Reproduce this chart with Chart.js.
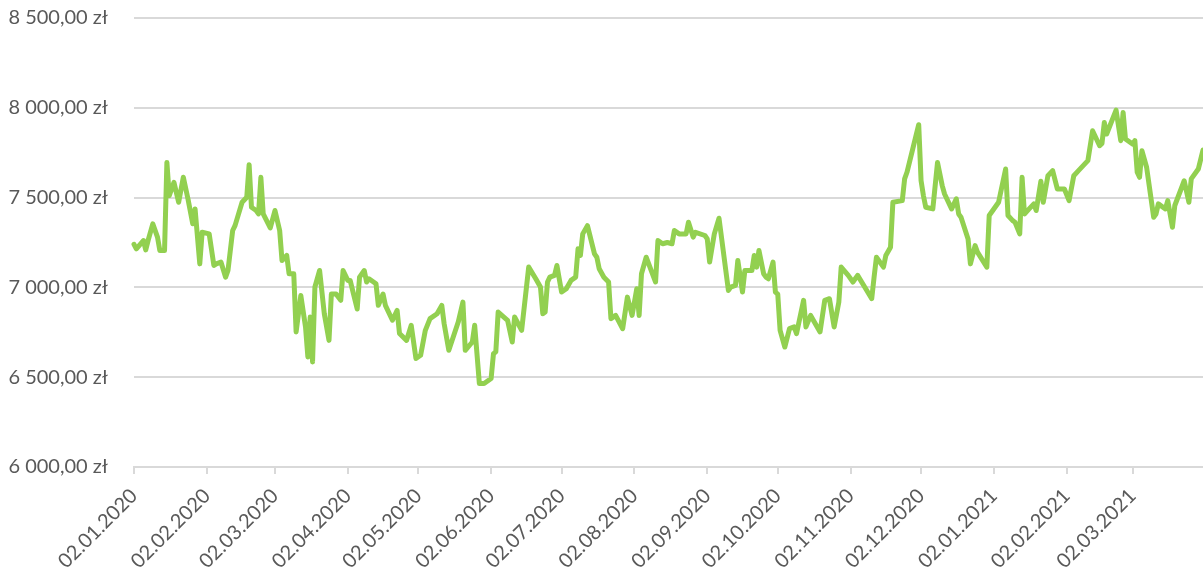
<!DOCTYPE html>
<html>
<head>
<meta charset="utf-8">
<script src="https://cdn.jsdelivr.net/npm/chart.js@4/dist/chart.umd.min.js"></script>
<style>
  html, body { margin: 0; padding: 0; background: #fff; }
  #wrap { width: 1203px; height: 570px; position: relative; }
</style>
</head>
<body>
<div id="wrap"><canvas id="priceChart"></canvas></div>
<script>
// days counted from 02.01.2020
const dayOffsets = [
  0, 1, 4, 5, 6, 8, 10, 11, 13, 14, 15, 17, 19, 21, 23, 25, 26, 28, 29, 32,
  34, 35, 37, 39, 40, 42, 43, 46, 48, 49, 50, 52, 53, 54, 55, 58, 60, 62, 63, 65,
  66, 68, 69, 71, 73, 74, 75, 76, 77, 79, 81, 83, 84, 86, 88, 89, 91, 92, 95, 96,
  98, 99, 100, 103, 104, 106, 107, 110, 112, 113, 116, 118, 120, 122, 124, 126, 129, 131, 132, 134,
  138, 140, 141, 144, 145, 147, 149, 152, 153, 154, 155, 159, 161, 162, 165, 168, 171, 173, 174, 175,
  176, 177, 179, 180, 182, 184, 186, 188, 189, 190, 191, 193, 196, 197, 198, 200, 202, 203, 205, 208,
  210, 212, 214, 215, 216, 218, 222, 223, 225, 227, 229, 230, 232, 235, 236, 238, 239, 243, 244, 245,
  247, 249, 253, 254, 256, 257, 259, 260, 263, 264, 265, 266, 268, 269, 270, 272, 273, 274, 275, 277,
  279, 281, 282, 285, 286, 288, 292, 294, 296, 298, 300, 301, 304, 306, 308, 311, 314, 315, 316, 319,
  320, 322, 323, 327, 328, 329, 334, 335, 336, 337, 340, 342, 344, 345, 348, 350, 351, 352, 355, 356,
  358, 359, 363, 364, 368, 371, 372, 374, 375, 377, 378, 379, 381, 383, 384, 386, 387, 389, 391, 393,
  396, 398, 400, 402, 404, 406, 408, 411, 412, 413, 414, 418, 420, 421, 422, 425, 426, 427, 428, 429,
  431, 434, 435, 436, 439, 440, 442, 443, 446, 447, 449, 450, 453, 455
];

const prices = [
  7240, 7215, 7261, 7209, 7261, 7354, 7280, 7205, 7205, 7696, 7511, 7585, 7474, 7613, 7491, 7354, 7437, 7131, 7307, 7298,
  7122, 7131, 7141, 7057, 7094, 7317, 7344, 7474, 7502, 7683, 7446, 7428, 7409, 7613, 7409, 7331, 7428, 7317, 7150, 7178,
  7076, 7076, 6752, 6955, 6780, 6613, 6835, 6585, 7002, 7094, 6853, 6705, 6963, 6963, 6928, 7094, 7039, 7039, 6880, 7057,
  7094, 7030, 7048, 7020, 6900, 6963, 6900, 6817, 6872, 6743, 6705, 6789, 6604, 6622, 6761, 6826, 6853, 6900, 6798, 6650,
  6807, 6918, 6650, 6696, 6789, 6465, 6465, 6493, 6631, 6641, 6863, 6817, 6696, 6835, 6761, 7113, 7048, 7002, 6853, 6863,
  7030, 7057, 7067, 7122, 6974, 6993, 7039, 7057, 7215, 7178, 7298, 7344, 7187, 7168, 7104, 7057, 7030, 6826, 6844, 6770,
  6946, 6844, 6993, 6844, 7076, 7168, 7030, 7261, 7243, 7250, 7243, 7317, 7298, 7298, 7363, 7280, 7307, 7289, 7270, 7141,
  7298, 7385, 6983, 7002, 7011, 7150, 6974, 7094, 7094, 7178, 7113, 7206, 7076, 7057, 7048, 7141, 6974, 6963, 6761, 6668,
  6770, 6780, 6743, 6928, 6780, 6844, 6752, 6928, 6937, 6780, 6918, 7113, 7067, 7030, 7067, 7002, 6937, 7057, 7168, 7113,
  7178, 7224, 7474, 7483, 7604, 7641, 7906, 7594, 7511, 7446, 7437, 7696, 7567, 7520, 7437, 7493, 7409, 7391, 7270, 7131,
  7233, 7196, 7113, 7400, 7474, 7659, 7400, 7372, 7363, 7298, 7613, 7409, 7437, 7465, 7428, 7591, 7474, 7622, 7650, 7548,
  7548, 7483, 7622, 7650, 7678, 7706, 7872, 7789, 7802, 7918, 7854, 7987, 7817, 7974, 7826, 7798, 7817, 7641, 7613, 7761,
  7669, 7391, 7409, 7465, 7437, 7483, 7335, 7456, 7559, 7594, 7474, 7604, 7659, 7765
];

const tickDays = [0, 31, 60, 91, 121, 152, 182, 213, 244, 274, 305, 335, 366, 397, 425];
const tickLabels = [
  '02.01.2020', '02.02.2020', '02.03.2020', '02.04.2020', '02.05.2020',
  '02.06.2020', '02.07.2020', '02.08.2020', '02.09.2020', '02.10.2020',
  '02.11.2020', '02.12.2020', '02.01.2021', '02.02.2021', '02.03.2021'
];

const points = dayOffsets.map((d, i) => ({ x: d, y: prices[i] }));

function formatPLN(v) {
  const whole = Math.floor(v);
  const s = String(whole).replace(/\B(?=(\d{3})+(?!\d))/g, ' ');
  return s + ',00 zł';
}

const gray = '#d9d9d9';
const textColor = '#595959';
const font = { family: 'Lato', size: 20 };

new Chart(document.getElementById('priceChart'), {
  type: 'line',
  data: {
    datasets: [{
      data: points,
      borderColor: '#92d050',
      borderWidth: 5,
      borderJoinStyle: 'round',
      borderCapStyle: 'round',
      pointRadius: 0,
      tension: 0,
      clip: false,
    }],
  },
  options: {
    responsive: true,
    maintainAspectRatio: false,
    animation: false,
    layout: { padding: { top: 18, right: 0, left: 0, bottom: 0 } },
    plugins: {
      legend: { display: false },
      tooltip: { enabled: false },
    },
    scales: {
      x: {
        type: 'linear',
        min: 0,
        max: 455,
        afterBuildTicks: (axis) => {
          axis.ticks = tickDays.map(v => ({ value: v }));
        },
        afterFit: (axis) => {
          axis.height = 103;
          axis.paddingTop = 0;
          axis.paddingRight = 0;
        },
        ticks: {
          autoSkip: false,
          minRotation: 45,
          maxRotation: 45,
          padding: 10,
          color: textColor,
          font: font,
          callback: (value) => tickLabels[tickDays.indexOf(value)],
        },
        grid: {
          drawOnChartArea: false,
          drawTicks: true,
          tickLength: 7,
          color: gray,
          lineWidth: 2,
        },
        border: { display: true, color: gray, width: 2 },
      },
      y: {
        min: 6000,
        max: 8500,
        afterFit: (axis) => {
          axis.width = 134;
          axis.paddingTop = 0;
          axis.paddingBottom = 0;
        },
        ticks: {
          stepSize: 500,
          padding: 26,
          color: textColor,
          font: font,
          callback: (value) => formatPLN(value),
        },
        grid: {
          color: gray,
          lineWidth: 2,
          drawTicks: false,
        },
        border: { display: false },
      },
    },
  },
});
</script>
</body>
</html>
